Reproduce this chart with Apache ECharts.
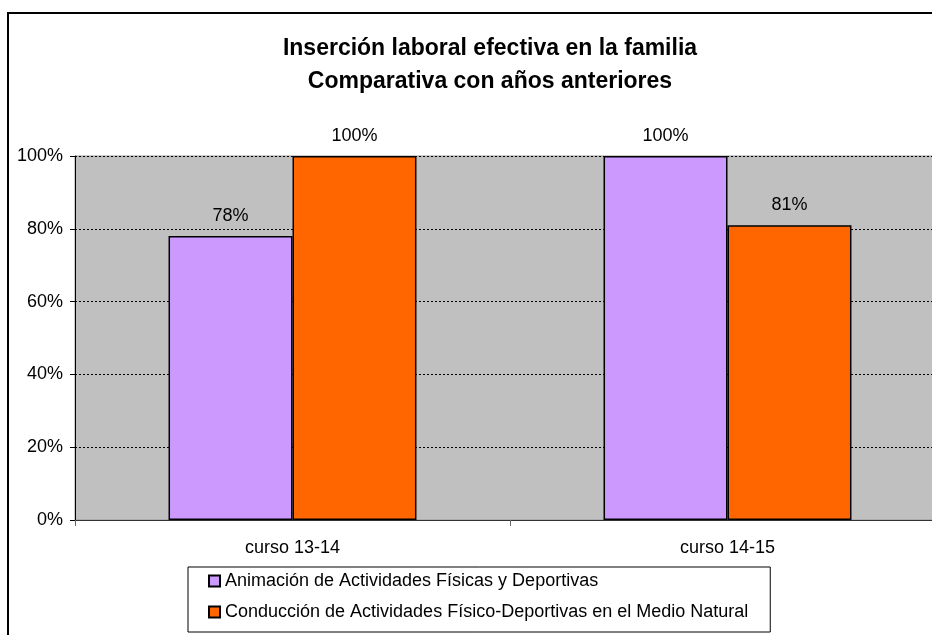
<!DOCTYPE html>
<html>
<head>
<meta charset="utf-8">
<script src="https://cdn.jsdelivr.net/npm/echarts@6/dist/echarts.min.js"></script>
<style>
  html, body { margin: 0; padding: 0; background: #fff; }
  #chart { width: 932px; height: 635px; }
</style>
</head>
<body>
<div id="chart"></div>
<script>
// datos del gráfico
var cursos = ['curso 13-14', 'curso 14-15'];
var animacion = [0.78, 1.00];
var conduccion = [1.00, 0.81];
var nombres = [
  'Animación de Actividades Físicas y Deportivas',
  'Conducción de Actividades Físico-Deportivas en el Medio Natural'
];
var ticksY = [0, 0.2, 0.4, 0.6, 0.8, 1.0];

var fuente = 'Liberation Sans, Arial, sans-serif';
var chart = echarts.init(document.getElementById('chart'));

function pct(v) { return Math.round(v * 100) + '%'; }

chart.setOption({
  animation: false,
  textStyle: { fontFamily: fuente },
  title: {
    text: 'Inserción laboral efectiva en la familia\nComparativa con años anteriores',
    left: 485,
    top: 27,
    textAlign: 'center',
    textStyle: { fontSize: 23, fontWeight: 'bold', color: '#000', lineHeight: 33, fontFamily: fuente }
  },
  // marco exterior
  graphic: [{
    type: 'rect',
    shape: { x: 8, y: 13, width: 1000, height: 700 },
    style: { fill: 'none', stroke: '#000', lineWidth: 2 },
    z: -10
  }],
  legend: {
    orient: 'vertical',
    left: 188,
    top: 567,
    padding: [5, 22, 11, 20],
    itemGap: 13,
    itemWidth: 11,
    itemHeight: 11,
    borderColor: '#000',
    borderWidth: 1,
    textStyle: { fontSize: 18, color: '#000', fontFamily: fuente },
    data: nombres.map(function (n) { return { name: n, icon: 'rect' }; })
  },
  grid: {
    left: 75, top: 156, width: 870, height: 364,
    outerBoundsMode: 'none',
    show: true, backgroundColor: '#C0C0C0', borderColor: '#999', borderWidth: 1
  },
  xAxis: {
    type: 'category',
    data: cursos,
    axisLine: { lineStyle: { color: '#333', width: 1 } },
    axisTick: { show: true, length: 6, lineStyle: { color: '#666' } },
    axisLabel: { fontSize: 18, color: '#000', margin: 19 }
  },
  yAxis: {
    type: 'value',
    min: 0, max: 1, interval: 0.2,
    axisLine: { show: true, lineStyle: { color: '#000', width: 1 } },
    axisTick: { show: true, length: 5, lineStyle: { color: '#000' } },
    axisLabel: {
      fontSize: 18, color: '#000', margin: 12,
      formatter: function (v) { return ticksY.indexOf(v) >= 0 ? pct(v) : ''; }
    },
    splitLine: { lineStyle: { color: '#000', type: [2, 2], width: 1 } }
  },
  series: [{
    name: nombres[0],
    type: 'bar',
    data: animacion,
    barGap: '0%',
    barCategoryGap: '43%',
    itemStyle: { color: '#CC99FF', borderColor: '#000', borderWidth: 1.5 },
    label: { show: true, position: 'top', distance: 11, fontSize: 18, color: '#000', formatter: function (p) { return pct(p.value); } }
  }, {
    name: nombres[1],
    type: 'bar',
    data: conduccion,
    itemStyle: { color: '#FF6600', borderColor: '#000', borderWidth: 1.5 },
    label: { show: true, position: 'top', distance: 11, fontSize: 18, color: '#000', formatter: function (p) { return pct(p.value); } }
  }]
});
</script>
</body>
</html>
